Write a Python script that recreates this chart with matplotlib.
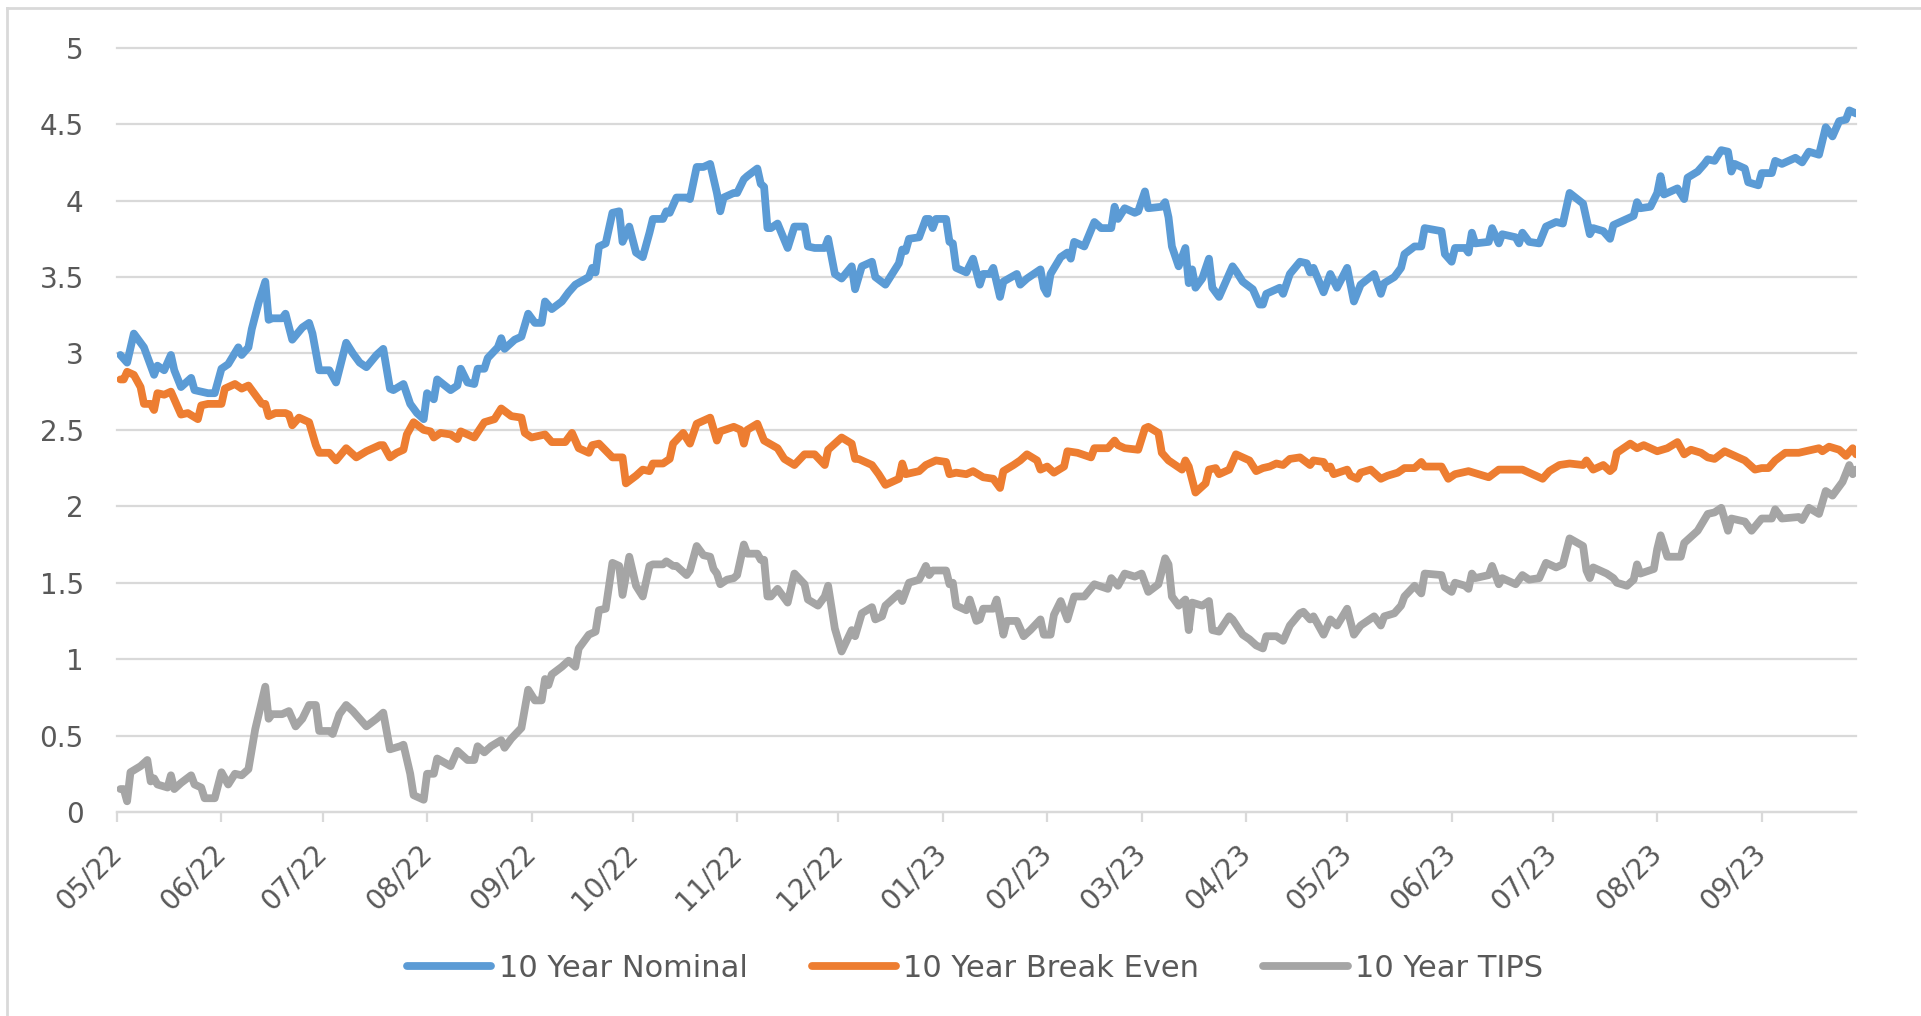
import matplotlib
matplotlib.use("Agg")
import matplotlib.pyplot as plt
import matplotlib.dates as mdates
from matplotlib.lines import Line2D
import pandas as pd

# values (date, yield %)
nominal = [
    ("2022-05-02", 2.99), ("2022-05-04", 2.94), ("2022-05-06", 3.13), ("2022-05-09", 3.04), ("2022-05-12", 2.86),
    ("2022-05-13", 2.92), ("2022-05-15", 2.89), ("2022-05-17", 2.99), ("2022-05-18", 2.89), ("2022-05-20", 2.78),
    ("2022-05-23", 2.84), ("2022-05-24", 2.76), ("2022-05-28", 2.74), ("2022-05-30", 2.74), ("2022-06-01", 2.90),
    ("2022-06-03", 2.93), ("2022-06-06", 3.04), ("2022-06-07", 2.99), ("2022-06-09", 3.04), ("2022-06-10", 3.16),
    ("2022-06-12", 3.33), ("2022-06-14", 3.47), ("2022-06-15", 3.22), ("2022-06-16", 3.23), ("2022-06-19", 3.23),
    ("2022-06-20", 3.26), ("2022-06-22", 3.09), ("2022-06-25", 3.17), ("2022-06-27", 3.20), ("2022-06-28", 3.13),
    ("2022-06-30", 2.89), ("2022-07-03", 2.89), ("2022-07-05", 2.81), ("2022-07-08", 3.07), ("2022-07-10", 3.00),
    ("2022-07-12", 2.94), ("2022-07-14", 2.91), ("2022-07-17", 2.99), ("2022-07-19", 3.03), ("2022-07-21", 2.77),
    ("2022-07-22", 2.76), ("2022-07-25", 2.80), ("2022-07-27", 2.67), ("2022-07-29", 2.61), ("2022-07-31", 2.57),
    ("2022-08-01", 2.74), ("2022-08-03", 2.70), ("2022-08-04", 2.83), ("2022-08-08", 2.76), ("2022-08-10", 2.79),
    ("2022-08-11", 2.90), ("2022-08-13", 2.81), ("2022-08-15", 2.80), ("2022-08-16", 2.90), ("2022-08-18", 2.90),
    ("2022-08-19", 2.97), ("2022-08-22", 3.04), ("2022-08-23", 3.10), ("2022-08-24", 3.03), ("2022-08-27", 3.09),
    ("2022-08-29", 3.11), ("2022-08-31", 3.26), ("2022-09-02", 3.20), ("2022-09-04", 3.20), ("2022-09-05", 3.34),
    ("2022-09-07", 3.29), ("2022-09-10", 3.34), ("2022-09-12", 3.40), ("2022-09-14", 3.45), ("2022-09-18", 3.50),
    ("2022-09-19", 3.56), ("2022-09-20", 3.53), ("2022-09-21", 3.70), ("2022-09-23", 3.72), ("2022-09-25", 3.92),
    ("2022-09-27", 3.93), ("2022-09-28", 3.73), ("2022-09-30", 3.83), ("2022-10-02", 3.66), ("2022-10-04", 3.63),
    ("2022-10-06", 3.79), ("2022-10-07", 3.88), ("2022-10-10", 3.88), ("2022-10-11", 3.93), ("2022-10-12", 3.92),
    ("2022-10-14", 4.02), ("2022-10-17", 4.02), ("2022-10-18", 4.01), ("2022-10-20", 4.22), ("2022-10-22", 4.22),
    ("2022-10-24", 4.24), ("2022-10-26", 4.05), ("2022-10-27", 3.93), ("2022-10-28", 4.02), ("2022-10-31", 4.05),
    ("2022-11-01", 4.05), ("2022-11-03", 4.14), ("2022-11-04", 4.16), ("2022-11-07", 4.21), ("2022-11-08", 4.11),
    ("2022-11-09", 4.09), ("2022-11-10", 3.82), ("2022-11-11", 3.82), ("2022-11-13", 3.85), ("2022-11-16", 3.69),
    ("2022-11-18", 3.83), ("2022-11-21", 3.83), ("2022-11-22", 3.70), ("2022-11-24", 3.69), ("2022-11-27", 3.69),
    ("2022-11-28", 3.75), ("2022-11-30", 3.52), ("2022-12-02", 3.49), ("2022-12-05", 3.57), ("2022-12-06", 3.42),
    ("2022-12-08", 3.57), ("2022-12-11", 3.60), ("2022-12-12", 3.50), ("2022-12-15", 3.45), ("2022-12-19", 3.59),
    ("2022-12-20", 3.68), ("2022-12-21", 3.67), ("2022-12-22", 3.75), ("2022-12-25", 3.76), ("2022-12-27", 3.88),
    ("2022-12-28", 3.88), ("2022-12-29", 3.82), ("2022-12-30", 3.88), ("2023-01-02", 3.88), ("2023-01-03", 3.73),
    ("2023-01-04", 3.72), ("2023-01-05", 3.56), ("2023-01-08", 3.53), ("2023-01-10", 3.62), ("2023-01-12", 3.45),
    ("2023-01-13", 3.52), ("2023-01-15", 3.52), ("2023-01-16", 3.56), ("2023-01-18", 3.37), ("2023-01-19", 3.47),
    ("2023-01-23", 3.52), ("2023-01-24", 3.45), ("2023-01-26", 3.49), ("2023-01-30", 3.55), ("2023-01-31", 3.43),
    ("2023-02-01", 3.39), ("2023-02-02", 3.52), ("2023-02-05", 3.63), ("2023-02-07", 3.66), ("2023-02-08", 3.62),
    ("2023-02-09", 3.73), ("2023-02-12", 3.70), ("2023-02-15", 3.86), ("2023-02-17", 3.82), ("2023-02-20", 3.82),
    ("2023-02-21", 3.96), ("2023-02-22", 3.88), ("2023-02-24", 3.95), ("2023-02-27", 3.92), ("2023-02-28", 3.93),
    ("2023-03-02", 4.06), ("2023-03-03", 3.95), ("2023-03-07", 3.96), ("2023-03-08", 3.99), ("2023-03-09", 3.89),
    ("2023-03-10", 3.70), ("2023-03-12", 3.57), ("2023-03-14", 3.69), ("2023-03-15", 3.46), ("2023-03-16", 3.55),
    ("2023-03-17", 3.43), ("2023-03-19", 3.49), ("2023-03-21", 3.62), ("2023-03-22", 3.43), ("2023-03-24", 3.37),
    ("2023-03-28", 3.57), ("2023-03-29", 3.54), ("2023-03-31", 3.47), ("2023-04-03", 3.42), ("2023-04-05", 3.32),
    ("2023-04-06", 3.32), ("2023-04-07", 3.39), ("2023-04-08", 3.40), ("2023-04-11", 3.43), ("2023-04-12", 3.39),
    ("2023-04-14", 3.52), ("2023-04-17", 3.60), ("2023-04-19", 3.59), ("2023-04-20", 3.53), ("2023-04-21", 3.56),
    ("2023-04-24", 3.40), ("2023-04-26", 3.52), ("2023-04-28", 3.43), ("2023-05-01", 3.56), ("2023-05-03", 3.34),
    ("2023-05-05", 3.45), ("2023-05-09", 3.52), ("2023-05-11", 3.39), ("2023-05-12", 3.46), ("2023-05-15", 3.50),
    ("2023-05-17", 3.56), ("2023-05-18", 3.65), ("2023-05-21", 3.70), ("2023-05-23", 3.70), ("2023-05-24", 3.82),
    ("2023-05-29", 3.80), ("2023-05-30", 3.65), ("2023-06-01", 3.60), ("2023-06-02", 3.69), ("2023-06-05", 3.69),
    ("2023-06-06", 3.66), ("2023-06-07", 3.79), ("2023-06-08", 3.72), ("2023-06-12", 3.73), ("2023-06-13", 3.82),
    ("2023-06-15", 3.72), ("2023-06-16", 3.78), ("2023-06-20", 3.76), ("2023-06-21", 3.72), ("2023-06-22", 3.79),
    ("2023-06-24", 3.73), ("2023-06-27", 3.72), ("2023-06-29", 3.83), ("2023-07-02", 3.86), ("2023-07-04", 3.85),
    ("2023-07-06", 4.05), ("2023-07-10", 3.98), ("2023-07-12", 3.78), ("2023-07-13", 3.82), ("2023-07-16", 3.80),
    ("2023-07-18", 3.75), ("2023-07-19", 3.84), ("2023-07-25", 3.90), ("2023-07-26", 3.99), ("2023-07-27", 3.95),
    ("2023-07-30", 3.96), ("2023-08-01", 4.05), ("2023-08-02", 4.16), ("2023-08-03", 4.04), ("2023-08-07", 4.08),
    ("2023-08-09", 4.01), ("2023-08-10", 4.15), ("2023-08-13", 4.19), ("2023-08-15", 4.24), ("2023-08-16", 4.27),
    ("2023-08-18", 4.26), ("2023-08-20", 4.33), ("2023-08-22", 4.32), ("2023-08-23", 4.19), ("2023-08-24", 4.24),
    ("2023-08-27", 4.21), ("2023-08-28", 4.12), ("2023-08-31", 4.10), ("2023-09-01", 4.18), ("2023-09-04", 4.18),
    ("2023-09-05", 4.26), ("2023-09-07", 4.24), ("2023-09-11", 4.28), ("2023-09-13", 4.25), ("2023-09-15", 4.32),
    ("2023-09-18", 4.30), ("2023-09-20", 4.48), ("2023-09-22", 4.42), ("2023-09-24", 4.52), ("2023-09-26", 4.53),
    ("2023-09-27", 4.59), ("2023-09-28", 4.58), ("2023-09-29", 4.57),
]

breakeven = [
    ("2022-05-02", 2.83), ("2022-05-03", 2.83), ("2022-05-04", 2.88), ("2022-05-06", 2.86), ("2022-05-08", 2.78),
    ("2022-05-09", 2.67), ("2022-05-11", 2.67), ("2022-05-12", 2.63), ("2022-05-13", 2.74), ("2022-05-15", 2.73),
    ("2022-05-17", 2.75), ("2022-05-20", 2.60), ("2022-05-22", 2.61), ("2022-05-25", 2.57), ("2022-05-26", 2.66),
    ("2022-05-28", 2.67), ("2022-06-01", 2.67), ("2022-06-02", 2.77), ("2022-06-05", 2.80), ("2022-06-07", 2.77),
    ("2022-06-09", 2.79), ("2022-06-13", 2.67), ("2022-06-14", 2.67), ("2022-06-15", 2.59), ("2022-06-17", 2.61),
    ("2022-06-20", 2.61), ("2022-06-21", 2.60), ("2022-06-22", 2.53), ("2022-06-24", 2.58), ("2022-06-27", 2.55),
    ("2022-06-29", 2.40), ("2022-06-30", 2.35), ("2022-07-03", 2.35), ("2022-07-05", 2.30), ("2022-07-08", 2.38),
    ("2022-07-11", 2.32), ("2022-07-14", 2.36), ("2022-07-18", 2.40), ("2022-07-19", 2.40), ("2022-07-21", 2.32),
    ("2022-07-23", 2.35), ("2022-07-25", 2.37), ("2022-07-26", 2.47), ("2022-07-28", 2.55), ("2022-07-31", 2.50),
    ("2022-08-02", 2.49), ("2022-08-03", 2.45), ("2022-08-05", 2.48), ("2022-08-08", 2.47), ("2022-08-10", 2.44),
    ("2022-08-11", 2.49), ("2022-08-15", 2.45), ("2022-08-18", 2.55), ("2022-08-21", 2.57), ("2022-08-23", 2.64),
    ("2022-08-26", 2.59), ("2022-08-29", 2.58), ("2022-08-30", 2.48), ("2022-09-01", 2.45), ("2022-09-05", 2.47),
    ("2022-09-07", 2.42), ("2022-09-11", 2.42), ("2022-09-13", 2.48), ("2022-09-15", 2.38), ("2022-09-18", 2.35),
    ("2022-09-19", 2.40), ("2022-09-21", 2.41), ("2022-09-25", 2.32), ("2022-09-28", 2.32), ("2022-09-29", 2.15),
    ("2022-10-02", 2.20), ("2022-10-04", 2.24), ("2022-10-06", 2.23), ("2022-10-07", 2.28), ("2022-10-10", 2.28),
    ("2022-10-12", 2.31), ("2022-10-13", 2.41), ("2022-10-16", 2.48), ("2022-10-18", 2.41), ("2022-10-20", 2.54),
    ("2022-10-24", 2.58), ("2022-10-26", 2.43), ("2022-10-27", 2.49), ("2022-10-31", 2.52), ("2022-11-02", 2.50),
    ("2022-11-03", 2.41), ("2022-11-04", 2.50), ("2022-11-07", 2.54), ("2022-11-09", 2.43), ("2022-11-13", 2.38),
    ("2022-11-15", 2.31), ("2022-11-18", 2.27), ("2022-11-21", 2.34), ("2022-11-24", 2.34), ("2022-11-27", 2.27),
    ("2022-11-28", 2.37), ("2022-12-02", 2.45), ("2022-12-05", 2.41), ("2022-12-06", 2.31), ("2022-12-07", 2.31),
    ("2022-12-11", 2.27), ("2022-12-13", 2.21), ("2022-12-15", 2.14), ("2022-12-19", 2.18), ("2022-12-20", 2.28),
    ("2022-12-21", 2.21), ("2022-12-25", 2.23), ("2022-12-27", 2.27), ("2022-12-30", 2.30), ("2023-01-02", 2.29),
    ("2023-01-03", 2.21), ("2023-01-05", 2.22), ("2023-01-08", 2.21), ("2023-01-10", 2.23), ("2023-01-13", 2.19),
    ("2023-01-16", 2.18), ("2023-01-18", 2.12), ("2023-01-19", 2.23), ("2023-01-22", 2.27), ("2023-01-24", 2.30),
    ("2023-01-26", 2.34), ("2023-01-29", 2.30), ("2023-01-30", 2.24), ("2023-02-01", 2.26), ("2023-02-03", 2.22),
    ("2023-02-06", 2.26), ("2023-02-07", 2.36), ("2023-02-10", 2.35), ("2023-02-14", 2.32), ("2023-02-15", 2.38),
    ("2023-02-19", 2.38), ("2023-02-21", 2.43), ("2023-02-22", 2.40), ("2023-02-24", 2.38), ("2023-02-28", 2.37),
    ("2023-03-02", 2.51), ("2023-03-03", 2.52), ("2023-03-06", 2.48), ("2023-03-07", 2.35), ("2023-03-09", 2.30),
    ("2023-03-13", 2.24), ("2023-03-14", 2.30), ("2023-03-15", 2.26), ("2023-03-17", 2.09), ("2023-03-20", 2.15),
    ("2023-03-21", 2.24), ("2023-03-23", 2.25), ("2023-03-24", 2.21), ("2023-03-27", 2.24), ("2023-03-29", 2.34),
    ("2023-04-02", 2.30), ("2023-04-04", 2.23), ("2023-04-06", 2.25), ("2023-04-08", 2.26), ("2023-04-10", 2.28),
    ("2023-04-12", 2.27), ("2023-04-14", 2.31), ("2023-04-17", 2.32), ("2023-04-20", 2.27), ("2023-04-21", 2.30),
    ("2023-04-24", 2.29), ("2023-04-25", 2.25), ("2023-04-26", 2.26), ("2023-04-27", 2.21), ("2023-05-01", 2.24),
    ("2023-05-02", 2.20), ("2023-05-04", 2.18), ("2023-05-05", 2.22), ("2023-05-08", 2.24), ("2023-05-11", 2.18),
    ("2023-05-13", 2.20), ("2023-05-16", 2.22), ("2023-05-18", 2.25), ("2023-05-21", 2.25), ("2023-05-23", 2.29),
    ("2023-05-24", 2.26), ("2023-05-29", 2.26), ("2023-05-31", 2.18), ("2023-06-02", 2.21), ("2023-06-06", 2.23),
    ("2023-06-12", 2.19), ("2023-06-15", 2.24), ("2023-06-20", 2.24), ("2023-06-22", 2.24), ("2023-06-24", 2.22),
    ("2023-06-28", 2.18), ("2023-06-30", 2.23), ("2023-07-03", 2.27), ("2023-07-06", 2.28), ("2023-07-10", 2.27),
    ("2023-07-11", 2.30), ("2023-07-13", 2.24), ("2023-07-16", 2.27), ("2023-07-18", 2.23), ("2023-07-19", 2.25),
    ("2023-07-20", 2.35), ("2023-07-24", 2.41), ("2023-07-26", 2.38), ("2023-07-28", 2.40), ("2023-07-30", 2.38),
    ("2023-08-01", 2.36), ("2023-08-04", 2.38), ("2023-08-07", 2.42), ("2023-08-09", 2.34), ("2023-08-11", 2.37),
    ("2023-08-14", 2.35), ("2023-08-16", 2.32), ("2023-08-18", 2.31), ("2023-08-21", 2.36), ("2023-08-24", 2.33),
    ("2023-08-27", 2.30), ("2023-08-30", 2.24), ("2023-09-01", 2.25), ("2023-09-03", 2.25), ("2023-09-05", 2.30),
    ("2023-09-08", 2.35), ("2023-09-12", 2.35), ("2023-09-14", 2.36), ("2023-09-18", 2.38), ("2023-09-19", 2.36),
    ("2023-09-21", 2.39), ("2023-09-24", 2.37), ("2023-09-26", 2.33), ("2023-09-28", 2.38), ("2023-09-29", 2.34),
]

tips = [
    ("2022-05-02", 0.15), ("2022-05-03", 0.15), ("2022-05-04", 0.07), ("2022-05-05", 0.26), ("2022-05-08", 0.30),
    ("2022-05-10", 0.34), ("2022-05-11", 0.20), ("2022-05-12", 0.22), ("2022-05-13", 0.18), ("2022-05-16", 0.16),
    ("2022-05-17", 0.24), ("2022-05-18", 0.15), ("2022-05-20", 0.19), ("2022-05-23", 0.24), ("2022-05-24", 0.18),
    ("2022-05-26", 0.16), ("2022-05-27", 0.09), ("2022-05-30", 0.09), ("2022-06-01", 0.26), ("2022-06-03", 0.18),
    ("2022-06-05", 0.25), ("2022-06-07", 0.24), ("2022-06-09", 0.28), ("2022-06-11", 0.54), ("2022-06-14", 0.82),
    ("2022-06-15", 0.61), ("2022-06-16", 0.64), ("2022-06-19", 0.64), ("2022-06-21", 0.66), ("2022-06-23", 0.56),
    ("2022-06-25", 0.61), ("2022-06-27", 0.70), ("2022-06-29", 0.70), ("2022-06-30", 0.53), ("2022-07-03", 0.53),
    ("2022-07-04", 0.51), ("2022-07-06", 0.64), ("2022-07-08", 0.70), ("2022-07-10", 0.66), ("2022-07-12", 0.61),
    ("2022-07-14", 0.56), ("2022-07-17", 0.61), ("2022-07-19", 0.65), ("2022-07-21", 0.41), ("2022-07-24", 0.43),
    ("2022-07-25", 0.44), ("2022-07-27", 0.25), ("2022-07-28", 0.11), ("2022-07-31", 0.08), ("2022-08-01", 0.25),
    ("2022-08-03", 0.25), ("2022-08-04", 0.35), ("2022-08-08", 0.30), ("2022-08-10", 0.40), ("2022-08-13", 0.34),
    ("2022-08-15", 0.34), ("2022-08-16", 0.43), ("2022-08-18", 0.39), ("2022-08-20", 0.43), ("2022-08-23", 0.47),
    ("2022-08-24", 0.42), ("2022-08-26", 0.48), ("2022-08-29", 0.55), ("2022-08-31", 0.80), ("2022-09-02", 0.73),
    ("2022-09-04", 0.73), ("2022-09-05", 0.87), ("2022-09-06", 0.83), ("2022-09-07", 0.90), ("2022-09-10", 0.95),
    ("2022-09-12", 0.99), ("2022-09-14", 0.95), ("2022-09-15", 1.07), ("2022-09-18", 1.16), ("2022-09-20", 1.18),
    ("2022-09-21", 1.32), ("2022-09-23", 1.33), ("2022-09-25", 1.63), ("2022-09-27", 1.61), ("2022-09-28", 1.42),
    ("2022-09-30", 1.67), ("2022-10-02", 1.48), ("2022-10-04", 1.41), ("2022-10-06", 1.61), ("2022-10-07", 1.62),
    ("2022-10-10", 1.62), ("2022-10-11", 1.64), ("2022-10-13", 1.61), ("2022-10-14", 1.61), ("2022-10-17", 1.55),
    ("2022-10-18", 1.58), ("2022-10-20", 1.74), ("2022-10-22", 1.68), ("2022-10-24", 1.67), ("2022-10-25", 1.59),
    ("2022-10-26", 1.56), ("2022-10-27", 1.49), ("2022-10-29", 1.52), ("2022-10-31", 1.53), ("2022-11-01", 1.55),
    ("2022-11-03", 1.75), ("2022-11-04", 1.69), ("2022-11-07", 1.69), ("2022-11-08", 1.65), ("2022-11-09", 1.65),
    ("2022-11-10", 1.41), ("2022-11-11", 1.41), ("2022-11-13", 1.46), ("2022-11-16", 1.37), ("2022-11-18", 1.56),
    ("2022-11-21", 1.49), ("2022-11-22", 1.39), ("2022-11-25", 1.35), ("2022-11-27", 1.41), ("2022-11-28", 1.48),
    ("2022-11-30", 1.20), ("2022-12-02", 1.05), ("2022-12-05", 1.19), ("2022-12-06", 1.15), ("2022-12-08", 1.30),
    ("2022-12-11", 1.34), ("2022-12-12", 1.26), ("2022-12-14", 1.28), ("2022-12-15", 1.35), ("2022-12-19", 1.43),
    ("2022-12-20", 1.38), ("2022-12-22", 1.50), ("2022-12-25", 1.52), ("2022-12-27", 1.61), ("2022-12-28", 1.55),
    ("2022-12-29", 1.58), ("2023-01-02", 1.58), ("2023-01-03", 1.49), ("2023-01-04", 1.50), ("2023-01-05", 1.35),
    ("2023-01-08", 1.32), ("2023-01-09", 1.39), ("2023-01-11", 1.25), ("2023-01-12", 1.26), ("2023-01-13", 1.33),
    ("2023-01-16", 1.33), ("2023-01-17", 1.39), ("2023-01-18", 1.28), ("2023-01-19", 1.16), ("2023-01-20", 1.25),
    ("2023-01-23", 1.25), ("2023-01-25", 1.15), ("2023-01-27", 1.19), ("2023-01-30", 1.26), ("2023-01-31", 1.16),
    ("2023-02-02", 1.16), ("2023-02-03", 1.29), ("2023-02-05", 1.38), ("2023-02-07", 1.26), ("2023-02-09", 1.41),
    ("2023-02-12", 1.41), ("2023-02-15", 1.49), ("2023-02-19", 1.46), ("2023-02-20", 1.53), ("2023-02-22", 1.48),
    ("2023-02-24", 1.56), ("2023-02-27", 1.54), ("2023-03-01", 1.56), ("2023-03-03", 1.44), ("2023-03-06", 1.49),
    ("2023-03-08", 1.66), ("2023-03-09", 1.62), ("2023-03-10", 1.41), ("2023-03-12", 1.35), ("2023-03-14", 1.39),
    ("2023-03-15", 1.19), ("2023-03-16", 1.37), ("2023-03-19", 1.35), ("2023-03-21", 1.38), ("2023-03-22", 1.19),
    ("2023-03-24", 1.18), ("2023-03-27", 1.28), ("2023-03-28", 1.26), ("2023-03-31", 1.16), ("2023-04-02", 1.13),
    ("2023-04-04", 1.09), ("2023-04-06", 1.07), ("2023-04-07", 1.15), ("2023-04-10", 1.15), ("2023-04-12", 1.12),
    ("2023-04-14", 1.22), ("2023-04-17", 1.30), ("2023-04-18", 1.31), ("2023-04-20", 1.26), ("2023-04-21", 1.28),
    ("2023-04-24", 1.16), ("2023-04-26", 1.26), ("2023-04-28", 1.22), ("2023-05-01", 1.33), ("2023-05-03", 1.16),
    ("2023-05-05", 1.22), ("2023-05-09", 1.28), ("2023-05-11", 1.22), ("2023-05-12", 1.28), ("2023-05-15", 1.30),
    ("2023-05-17", 1.35), ("2023-05-18", 1.41), ("2023-05-21", 1.48), ("2023-05-23", 1.43), ("2023-05-24", 1.56),
    ("2023-05-29", 1.55), ("2023-05-30", 1.47), ("2023-06-01", 1.44), ("2023-06-02", 1.50), ("2023-06-05", 1.48),
    ("2023-06-06", 1.46), ("2023-06-07", 1.56), ("2023-06-08", 1.53), ("2023-06-12", 1.55), ("2023-06-13", 1.61),
    ("2023-06-15", 1.49), ("2023-06-16", 1.53), ("2023-06-20", 1.49), ("2023-06-22", 1.55), ("2023-06-24", 1.52),
    ("2023-06-27", 1.53), ("2023-06-29", 1.63), ("2023-07-02", 1.60), ("2023-07-04", 1.62), ("2023-07-06", 1.79),
    ("2023-07-10", 1.74), ("2023-07-11", 1.58), ("2023-07-12", 1.53), ("2023-07-13", 1.60), ("2023-07-17", 1.56),
    ("2023-07-19", 1.53), ("2023-07-20", 1.50), ("2023-07-23", 1.48), ("2023-07-25", 1.52), ("2023-07-26", 1.62),
    ("2023-07-27", 1.56), ("2023-07-31", 1.59), ("2023-08-01", 1.72), ("2023-08-02", 1.81), ("2023-08-04", 1.67),
    ("2023-08-08", 1.67), ("2023-08-09", 1.76), ("2023-08-13", 1.84), ("2023-08-16", 1.95), ("2023-08-18", 1.96),
    ("2023-08-20", 1.99), ("2023-08-22", 1.84), ("2023-08-23", 1.92), ("2023-08-27", 1.90), ("2023-08-29", 1.84),
    ("2023-09-01", 1.92), ("2023-09-04", 1.92), ("2023-09-05", 1.98), ("2023-09-07", 1.92), ("2023-09-12", 1.93),
    ("2023-09-13", 1.91), ("2023-09-15", 1.99), ("2023-09-18", 1.95), ("2023-09-20", 2.10), ("2023-09-22", 2.07),
    ("2023-09-25", 2.16), ("2023-09-27", 2.27), ("2023-09-28", 2.21), ("2023-09-29", 2.24),
]

series_names = ["10 Year Nominal", "10 Year Break Even", "10 Year TIPS"]
series_colors = ["#5B9BD5", "#ED7D31", "#A5A5A5"]
y_ticks = [0, 0.5, 1, 1.5, 2, 2.5, 3, 3.5, 4, 4.5, 5]
y_labels = ["0", "0.5", "1", "1.5", "2", "2.5", "3", "3.5", "4", "4.5", "5"]

grid_c = "#d9d9d9"
text_c = "#595959"

fig = plt.figure(figsize=(19.21, 10.16), dpi=100)
ax = fig.add_axes([0.0609, 0.2008, 0.9053, 0.7522])

for name, data, col in zip(series_names, [nominal, breakeven, tips], series_colors):
    dates = pd.to_datetime([d for d, v in data])
    vals = [v for d, v in data]
    ax.plot(dates, vals, color=col, lw=5.6, label=name,
            solid_joinstyle="round", solid_capstyle="round")

ax.set_ylim(0, 5)
ax.set_xlim(pd.Timestamp("2022-05-01"), pd.Timestamp("2023-09-29"))
ax.set_yticks(y_ticks)
ax.set_yticklabels(y_labels)
ax.xaxis.set_major_locator(mdates.MonthLocator())
ax.xaxis.set_major_formatter(mdates.DateFormatter("%m/%y"))

for s in ["top", "right", "left"]:
    ax.spines[s].set_visible(False)
ax.spines["bottom"].set_color(grid_c)
ax.spines["bottom"].set_linewidth(1.6)

ax.yaxis.grid(True, color=grid_c, lw=1.6)
ax.set_axisbelow(True)
for gl in ax.get_ygridlines():
    gl.set_clip_on(False)

ax.tick_params(axis="y", length=0, pad=24, labelsize=20, labelcolor=text_c)
ax.tick_params(axis="x", direction="out", length=7.5, width=1.6, color=grid_c,
               pad=19, labelsize=20, labelcolor=text_c)
plt.setp(ax.get_xticklabels(), rotation=45, ha="right", va="center", rotation_mode="anchor")

leg = fig.legend(loc="center", bbox_to_anchor=(0.5076, 0.047), ncol=3, frameon=False,
                 fontsize=22, handlelength=2.75, handletextpad=0.25, columnspacing=2.1)
for t in leg.get_texts():
    t.set_color(text_c)

# chart area outline (top and left edges visible in the reference)
fig.add_artist(Line2D([0.0036, 1.0], [0.9921, 0.9921], transform=fig.transFigure, color=grid_c, lw=2))
fig.add_artist(Line2D([0.0036, 0.0036], [0.0, 0.9921], transform=fig.transFigure, color=grid_c, lw=2))

fig.savefig("out.png", dpi=100)
